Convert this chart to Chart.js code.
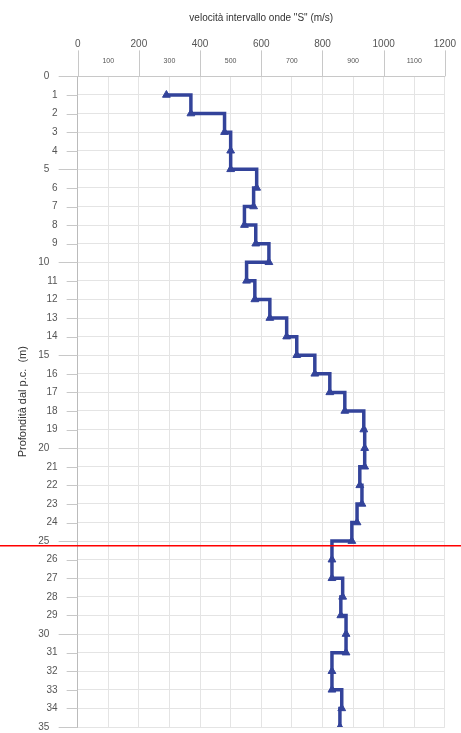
<!DOCTYPE html>
<html>
<head>
<meta charset="utf-8">
<script src="https://cdn.jsdelivr.net/npm/chart.js@4.4.0/dist/chart.umd.min.js"></script>
<style>
    html, body { margin: 0; padding: 0; background: #fff; }
    #contenitore { width: 461px; height: 733px; }
</style>
</head>
<body>
<div id="contenitore"><canvas id="graficoVs"></canvas></div>
<script>
// profondità (m) e velocità onde S (m/s) per ogni metro
let profondita = [1, 2, 3, 4, 5, 6, 7, 8, 9, 10,
                  11, 12, 13, 14, 15, 16, 17, 18, 19, 20,
                  21, 22, 23, 24, 25, 26, 27, 28, 29, 30,
                  31, 32, 33, 34, 35];
let velocita = [290, 370, 480, 500, 500, 585, 575, 545, 582, 625,
                552, 579, 628, 683, 716, 775, 824, 873, 935, 938,
                938, 922, 929, 913, 896, 831, 831, 866, 860, 877,
                877, 831, 831, 863, 857];

let velocitaMin = 0;
let velocitaMax = 1200;
let profonditaMax = 35;
let quotaRiferimento = 25.25; // linea rossa

let coloreTesto = "#555";
let coloreGriglia = "#e4e4e4";
let coloreTacche = "#c8c8c8";
let trasparente = "rgba(0,0,0,0)";

let punti = profondita.map((p, i) => ({ x: velocita[i], y: p }));

// tacche (lunghe ogni 200 m/s e ogni 5 m) e linea rossa su tutta la larghezza
const decorazioni = {
    id: "decorazioni",
    afterDatasetsDraw(chart) {
        let ctx = chart.ctx;
        let sx = chart.scales.x;
        let sy = chart.scales.y;
        let area = chart.chartArea;
        ctx.save();
        ctx.strokeStyle = coloreTacche;
        ctx.lineWidth = 1;
        for (let v = velocitaMin; v <= velocitaMax; v += 200) {
            let x = Math.round(sx.getPixelForValue(v)) + 0.5;
            ctx.beginPath();
            ctx.moveTo(x, area.top - 26);
            ctx.lineTo(x, area.top);
            ctx.stroke();
        }
        for (let v = 0; v <= profonditaMax; v += 1) {
            let y = Math.round(sy.getPixelForValue(v)) + 0.5;
            ctx.beginPath();
            ctx.moveTo(area.left - (v % 5 === 0 ? 19 : 11), y);
            ctx.lineTo(area.left, y);
            ctx.stroke();
        }
        let yr = sy.getPixelForValue(quotaRiferimento);
        ctx.strokeStyle = "#ff0000";
        ctx.lineWidth = 1.5;
        ctx.beginPath();
        ctx.moveTo(0, yr);
        ctx.lineTo(chart.width, yr);
        ctx.stroke();
        ctx.restore();
    }
};

new Chart(document.getElementById("graficoVs"), {
    type: "line",
    data: {
        datasets: [{
            label: "Vs",
            data: punti,
            stepped: "before",
            borderColor: "#33439a",
            backgroundColor: "#33439a",
            borderWidth: 3.5,
            pointStyle: "triangle",
            pointRadius: 4.5,
            pointBorderWidth: 1,
            fill: false
        }]
    },
    options: {
        responsive: true,
        maintainAspectRatio: false,
        animation: false,
        layout: { padding: { left: 16, right: 16, top: 5, bottom: 4 } },
        plugins: {
            legend: { display: false },
            tooltip: { enabled: false }
        },
        scales: {
            x: {
                type: "linear",
                position: "top",
                weight: 1,
                min: velocitaMin,
                max: velocitaMax,
                ticks: {
                    stepSize: 200,
                    color: coloreTesto,
                    font: { family: "Liberation Sans", size: 10 },
                    padding: 5,
                    maxRotation: 0,
                    callback: v => String(v)
                },
                grid: { drawOnChartArea: false, drawTicks: false },
                border: { display: false },
                title: {
                    display: true,
                    text: "velocità intervallo onde \"S\" (m/s)",
                    color: "#333",
                    font: { family: "Liberation Sans", size: 10 },
                    padding: { top: 7, bottom: 9 }
                }
            },
            x2: {
                type: "linear",
                position: "top",
                weight: 0,
                min: velocitaMin,
                max: velocitaMax,
                ticks: {
                    stepSize: 100,
                    color: coloreTesto,
                    font: { family: "Liberation Sans", size: 7 },
                    padding: 2,
                    maxRotation: 0,
                    autoSkip: false,
                    callback: v => (v % 200 === 0 ? "" : String(v))
                },
                grid: { color: coloreGriglia, tickLength: 9, tickColor: trasparente },
                border: { color: coloreTacche }
            },
            y: {
                type: "linear",
                reverse: true,
                min: 0,
                max: profonditaMax,
                ticks: {
                    stepSize: 1,
                    autoSkip: false,
                    color: coloreTesto,
                    font: { family: "Liberation Sans", size: 10 },
                    padding: 0,
                    callback: v => (v % 5 === 0 ? v + "   " : String(v))
                },
                grid: { color: coloreGriglia, tickLength: 20, tickColor: trasparente },
                border: { color: "#bbb" },
                title: {
                    display: true,
                    text: "Profondità dal p.c.  (m)",
                    color: "#333",
                    font: { family: "Liberation Sans", size: 11 },
                    padding: { top: 0, bottom: 9 }
                }
            }
        }
    },
    plugins: [decorazioni]
});
</script>
</body>
</html>
